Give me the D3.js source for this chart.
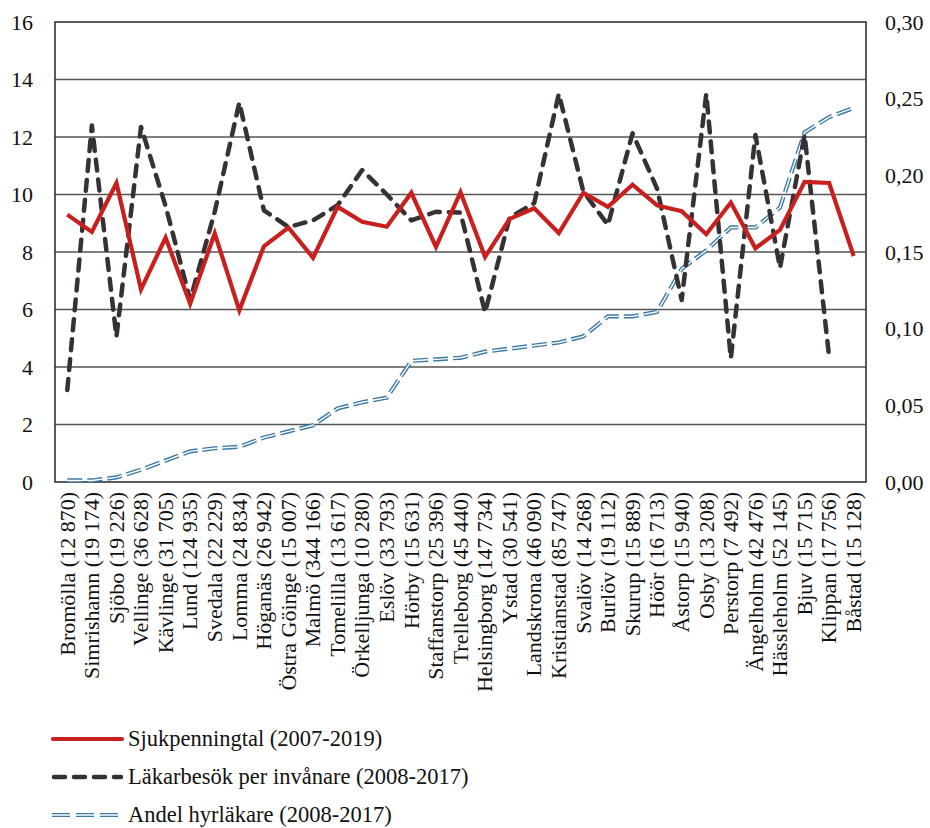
<!DOCTYPE html>
<html><head><meta charset="utf-8">
<script src="https://cdn.jsdelivr.net/npm/d3@7"></script>
<style>
body{margin:0;background:#fff;}
text{font-family:"Liberation Serif","DejaVu Serif",serif;fill:#111;}
</style></head><body>
<svg id="c" width="930" height="828"></svg>
<script>
const categories = ["Bromölla (12 870)","Simrishamn (19 174)","Sjöbo (19 226)","Vellinge (36 628)","Kävlinge (31 705)","Lund (124 935)","Svedala (22 229)","Lomma (24 834)","Höganäs (26 942)","Östra Göinge (15 007)","Malmö (344 166)","Tomelilla (13 617)","Örkelljunga (10 280)","Eslöv (33 793)","Hörby (15 631)","Staffanstorp (25 396)","Trelleborg (45 440)","Helsingborg (147 734)","Ystad (30 541)","Landskrona (46 090)","Kristianstad (85 747)","Svalöv (14 268)","Burlöv (19 112)","Skurup (15 889)","Höör (16 713)","Åstorp (15 940)","Osby (13 208)","Perstorp (7 492)","Ängelholm (42 476)","Hässleholm (52 145)","Bjuv (15 715)","Klippan (17 756)","Båstad (15 128)"];
const sjukpenningtal = [9.3,8.7,10.4,6.7,8.5,6.2,8.65,5.97,8.2,8.85,7.8,9.57,9.05,8.88,10.06,8.18,10.08,7.83,9.15,9.52,8.66,10.06,9.57,10.34,9.62,9.42,8.62,9.72,8.13,8.77,10.44,10.4,7.86];
const lakarbesok = [3.2,12.4,5.05,12.35,9.6,6.33,9.4,13.2,9.45,8.87,9.1,9.63,10.85,10.0,9.1,9.4,9.37,5.9,9.2,9.7,13.5,10.1,8.94,12.13,10.2,6.33,13.5,4.3,12.07,7.45,12.07,4.35,null];
const hyrlakare = [0.001,0.001,0.003,0.008,0.014,0.020,0.022,0.023,0.029,0.033,0.037,0.048,0.052,0.055,0.079,0.080,0.081,0.085,0.087,0.089,0.091,0.095,0.108,0.108,0.111,0.139,0.151,0.166,0.166,0.179,0.228,0.238,0.244];
const leftTicks = [0,2,4,6,8,10,12,14,16];
const rightTicks = [0,0.05,0.10,0.15,0.20,0.25,0.30];
const legendLabels = ["Sjukpenningtal (2007-2019)","Läkarbesök per invånare (2008-2017)","Andel hyrläkare (2008-2017)"];

const svg = d3.select("#c");
const L=55,R=866,T=22,B=482;
const x = d3.scaleBand().domain(categories).range([L,R]);
const cx = d => x(d)+x.bandwidth()/2;
const yL = d3.scaleLinear().domain([0,16]).range([B,T]);
const yR = d3.scaleLinear().domain([0,0.30]).range([B,T]);

// gridlines
const g = svg.append("g");
g.selectAll("line.grid").data(leftTicks.slice(1,-1)).join("line")
 .attr("x1",L).attr("x2",R).attr("y1",d=>yL(d)).attr("y2",d=>yL(d))
 .attr("stroke","#555").attr("stroke-width",1.4);
// frame
g.append("rect").attr("x",L).attr("y",T).attr("width",R-L).attr("height",B-T)
 .attr("fill","none").attr("stroke","#333").attr("stroke-width",1.6);

// left axis
const axL = d3.axisLeft(yL).tickValues(leftTicks).tickSize(0).tickPadding(22).tickFormat(d3.format("d"));
svg.append("g").attr("transform",`translate(${L},0)`).call(axL)
 .call(s=>s.select(".domain").remove())
 .selectAll("text").style("font-size","22px").attr("fill","#111");
// right axis
const axR = d3.axisRight(yR).tickValues(rightTicks).tickSize(0).tickPadding(19).tickFormat(d=>d3.format(".2f")(d).replace(".",","));
svg.append("g").attr("transform",`translate(${R},0)`).call(axR)
 .call(s=>s.select(".domain").remove())
 .selectAll("text").style("font-size","22px").attr("fill","#111");
// x axis
const axX = d3.axisBottom(x).tickSize(0).tickPadding(0);
svg.append("g").attr("transform",`translate(0,${B})`).call(axX)
 .call(s=>s.select(".domain").remove())
 .selectAll("text").style("font-size","22px").attr("fill","#111")
 .attr("text-anchor","end").attr("dy","0.33em")
 .attr("transform","translate(0,10) rotate(-90)").attr("x",0).attr("y",0);

const idx = d3.range(categories.length);
// blue double line
const lineR = d3.line().x(i=>cx(categories[i])).y(i=>yR(hyrlakare[i]));
svg.append("path").attr("d",lineR(idx)).attr("fill","none").attr("stroke","#3b7aa6")
 .attr("stroke-width",4.2).attr("stroke-dasharray","15,5");
svg.append("path").attr("d",lineR(idx)).attr("fill","none").attr("stroke","#fff")
 .attr("stroke-width",1.4).attr("stroke-dasharray","15,5");
// gray dashed
const lineG = d3.line().defined(i=>lakarbesok[i]!==null).x(i=>cx(categories[i])).y(i=>yL(lakarbesok[i]));
svg.append("path").attr("d",lineG(idx)).attr("fill","none").attr("stroke","#363233")
 .attr("stroke-width",4.5).attr("stroke-dasharray","11,9").attr("stroke-linecap","round").attr("stroke-linejoin","round");
// red
const lineS = d3.line().x(i=>cx(categories[i])).y(i=>yL(sjukpenningtal[i]));
svg.append("path").attr("d",lineS(idx)).attr("fill","none").attr("stroke","#c8201f")
 .attr("stroke-width",4.2).attr("stroke-linejoin","miter");

// legend
const lg = svg.append("g");
const ly = [739,777,815];
lg.append("line").attr("x1",53).attr("x2",122).attr("y1",ly[0]).attr("y2",ly[0]).attr("stroke","#c8201f").attr("stroke-width",4.2).attr("stroke-linecap","round");
lg.append("line").attr("x1",54).attr("x2",121).attr("y1",ly[1]).attr("y2",ly[1]).attr("stroke","#363233").attr("stroke-width",4.5).attr("stroke-dasharray","11,9").attr("stroke-linecap","round");
lg.append("line").attr("x1",52).attr("x2",122).attr("y1",ly[2]).attr("y2",ly[2]).attr("stroke","#3b7aa6").attr("stroke-width",4.2).attr("stroke-dasharray","18,6");
lg.append("line").attr("x1",52).attr("x2",122).attr("y1",ly[2]).attr("y2",ly[2]).attr("stroke","#fff").attr("stroke-width",1.4).attr("stroke-dasharray","18,6");
lg.selectAll("text").data(legendLabels).join("text")
 .attr("x",128).attr("y",(d,i)=>ly[i]).attr("dy","0.33em").style("font-size","22.5px").text(d=>d);
</script></body></html>
